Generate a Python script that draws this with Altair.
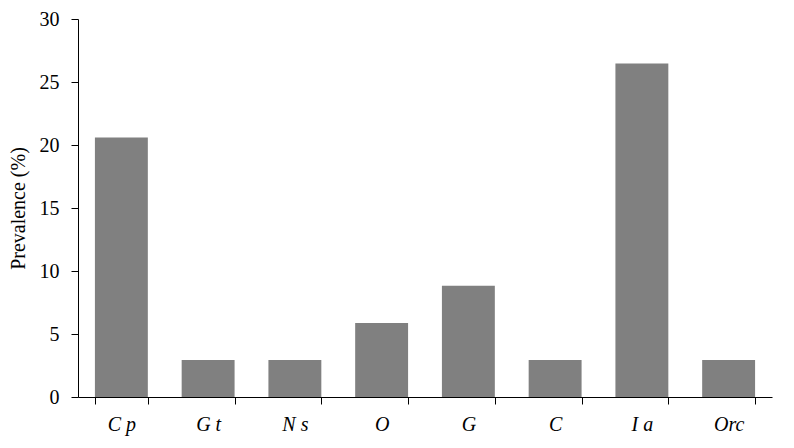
import altair as alt
import pandas as pd

categories = ["C p", "G t", "N s", "O", "G", "C", "I a", "Orc"]
prevalence = [20.59, 2.94, 2.94, 5.88, 8.82, 2.94, 26.47, 2.94]

df = pd.DataFrame({"cat": categories, "val": prevalence})

chart = alt.Chart(df).mark_bar(color="#808080").encode(
    x=alt.X("cat:N", sort=categories, title=None,
            scale=alt.Scale(paddingInner=0.39, paddingOuter=0.195),
            axis=alt.Axis(labelAngle=0, labelFont="Liberation Serif", labelFontStyle="italic",
                          labelFontSize=20, labelColor="black", tickBand="extent",
                          tickSize=7, labelPadding=10, domainColor="black", tickColor="black")),
    y=alt.Y("val:Q", title="Prevalence (%)",
            scale=alt.Scale(domain=[0, 30], nice=False),
            axis=alt.Axis(values=[0, 5, 10, 15, 20, 25, 30], grid=False, labelFont="Liberation Serif",
                          labelFontSize=20, labelColor="black", tickSize=7, labelPadding=12,
                          titleFont="Liberation Serif", titleFontSize=20, titleFontWeight="normal",
                          titleColor="black", titlePadding=11, domainColor="black", tickColor="black")),
).properties(
    width=694, height=378,
    autosize=alt.AutoSizeParams(type="none"),
    padding={"left": 70, "top": 11, "right": 14, "bottom": 43},
    background="white",
).configure_view(stroke=None)

chart.save("out.html", embed_options={"renderer": "svg", "actions": False})
